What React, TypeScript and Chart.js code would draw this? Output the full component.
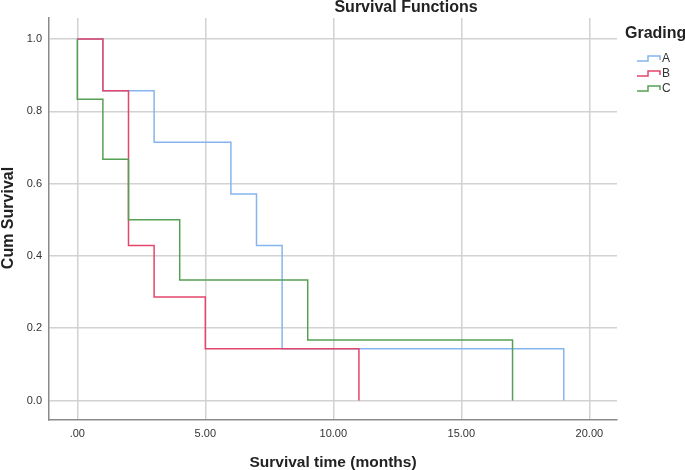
import React, { useEffect, useRef } from "react";
import { Chart, registerables } from "chart.js";

Chart.register(...registerables);

const gradeA_times = [0, 1, 3, 6, 7, 8, 19];
const gradeA_surv = [1.0, 0.857, 0.714, 0.571, 0.429, 0.143, 0.0];
const gradeB_times = [0, 1, 2, 3, 5, 11];
const gradeB_surv = [1.0, 0.857, 0.429, 0.286, 0.143, 0.0];
const gradeC_times = [0, 0, 1, 2, 4, 9, 17];
const gradeC_surv = [1.0, 0.833, 0.667, 0.5, 0.333, 0.167, 0.0];

const xTicks = [0, 5, 10, 15, 20];
const xTickLabels = [".00", "5.00", "10.00", "15.00", "20.00"];
const yTicks = [0, 0.2, 0.4, 0.6, 0.8, 1.0];
const yTickLabels = ["0.0", "0.2", "0.4", "0.6", "0.8", "1.0"];

const legendLabels = ["A", "B", "C"];
const colors = ["#85b5ef", "#e4456c", "#55a055"];

const FONT = "'Liberation Sans', Arial, sans-serif";

const toPoints = (t: number[], s: number[]) => t.map((x, i) => ({ x, y: s[i] }));

export default function App() {
  const ref = useRef<HTMLCanvasElement>(null);
  useEffect(() => {
    document.body.style.margin = "0";
    const canvas = ref.current!;
    const overlay = {
      id: "overlay",
      afterDraw(chart: any) {
        const ctx = chart.ctx;
        ctx.save();
        ctx.fillStyle = "#222";
        ctx.font = `bold 16px ${FONT}`;
        ctx.textAlign = "center";
        ctx.textBaseline = "alphabetic";
        ctx.fillText("Survival Functions", 406, 12);
        ctx.font = `bold 15.5px ${FONT}`;
        ctx.fillText("Survival time (months)", 333, 467);
        ctx.font = `bold 16px ${FONT}`;
        ctx.save();
        ctx.translate(13, 218);
        ctx.rotate(-Math.PI / 2);
        ctx.fillText("Cum Survival", 0, 0);
        ctx.restore();
        // legend
        ctx.textAlign = "left";
        ctx.fillText("Grading", 625, 38);
        ctx.font = `12px ${FONT}`;
        ctx.textBaseline = "middle";
        legendLabels.forEach((lab, i) => {
          const y = 58 + i * 15;
          ctx.strokeStyle = colors[i];
          ctx.lineWidth = 1.5;
          ctx.beginPath();
          ctx.moveTo(637, y + 3);
          ctx.lineTo(648, y + 3);
          ctx.lineTo(648, y - 2);
          ctx.lineTo(660, y - 2);
          ctx.lineTo(660, y + 2);
          ctx.stroke();
          ctx.fillStyle = "#333";
          ctx.fillText(lab, 662, y + 1);
        });
        ctx.restore();
      },
    };
    const chart = new Chart(canvas, {
      type: "line",
      data: {
        datasets: [
          { label: "A", data: toPoints(gradeA_times, gradeA_surv), borderColor: colors[0], order: 2 },
          { label: "B", data: toPoints(gradeB_times, gradeB_surv), borderColor: colors[1], order: 1 },
          { label: "C", data: toPoints(gradeC_times, gradeC_surv), borderColor: colors[2], order: 0 },
        ].map((d) => ({ ...d, stepped: "before" as const, borderWidth: 1.5, pointRadius: 0, fill: false, tension: 0 })),
      },
      options: {
        animation: false,
        responsive: false,
        devicePixelRatio: 1,
        layout: { padding: { top: 18, right: 68, left: 0, bottom: 0 } },
        plugins: { legend: { display: false }, tooltip: { enabled: false }, title: { display: false } },
        scales: {
          x: {
            type: "linear",
            min: -1.105,
            max: 21.08,
            afterBuildTicks: (s: any) => { s.ticks = xTicks.map((v) => ({ value: v })); },
            afterFit: (s: any) => { s.height = 50; },
            ticks: {
              callback: (v: any) => xTickLabels[xTicks.indexOf(Number(v))] ?? "",
              font: { family: FONT, size: 11 },
              color: "#333",
              padding: 7,
              maxRotation: 0,
              autoSkip: false,
            },
            grid: { color: "#d2d2d2", lineWidth: 1.5, drawTicks: false },
            border: { display: true, color: "#8a8a8a", width: 1.5 },
          },
          y: {
            type: "linear",
            min: -0.054,
            max: 1.058,
            afterBuildTicks: (s: any) => { s.ticks = yTicks.map((v) => ({ value: v })); },
            afterFit: (s: any) => { s.width = 49; },
            ticks: {
              callback: (v: any) => yTickLabels[yTicks.findIndex((t) => Math.abs(t - Number(v)) < 1e-6)] ?? "",
              font: { family: FONT, size: 11 },
              color: "#333",
              padding: 7,
              autoSkip: false,
            },
            grid: { color: "#d2d2d2", lineWidth: 1.5, drawTicks: false },
            border: { display: true, color: "#8a8a8a", width: 1.5 },
          },
        },
      },
      plugins: [overlay],
    } as any);
    return () => chart.destroy();
  }, []);
  return <canvas ref={ref} width={685} height={470} style={{ display: "block" }} />;
}
